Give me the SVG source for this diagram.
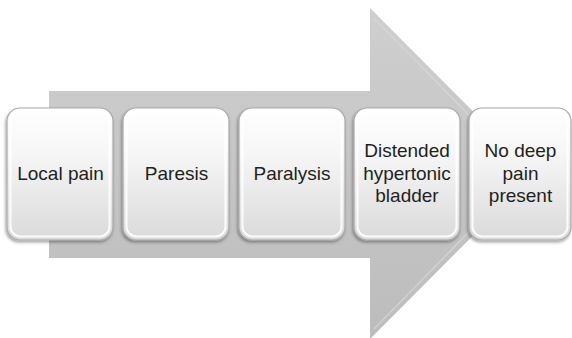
<svg xmlns="http://www.w3.org/2000/svg" width="572" height="338" viewBox="0 0 572 338">
  <defs>
    <linearGradient id="arrowGrad" x1="0" y1="0" x2="0" y2="1">
      <stop offset="0" stop-color="#cfcfcf"/>
      <stop offset="1" stop-color="#bcbcbc"/>
    </linearGradient>
    <linearGradient id="boxGrad" x1="0" y1="0" x2="0" y2="1">
      <stop offset="0" stop-color="#ffffff"/>
      <stop offset="0.35" stop-color="#f6f6f6"/>
      <stop offset="1" stop-color="#dadada"/>
    </linearGradient>
    <filter id="shadow" x="-10%" y="-10%" width="120%" height="120%">
      <feDropShadow dx="-1" dy="2" stdDeviation="1.5" flood-color="#000" flood-opacity="0.35"/>
    </filter>
  </defs>
  <style>
    .box { fill: url(#boxGrad); stroke: #a9a9a9; stroke-width: 1.2; filter: url(#shadow); }
    .hl { fill: none; stroke: #ffffff; stroke-width: 2; opacity: 0.9; }
    .lbl { font-family: "Liberation Sans", Arial, sans-serif; font-size: 19px; fill: #231f20; text-anchor: middle; }
  </style>
  <rect width="572" height="338" fill="#ffffff"/>
  <g id="connectors">
    <path d="M49,91 H370 V8 L535,173.5 L370,339 V258 H49 Z" fill="url(#arrowGrad)"/>
    <path d="M374,18 L526,173.5 L374,329" fill="none" stroke="#d9d9d9" stroke-width="1.5" opacity="0.7"/>
  </g>
  <g id="node1">
    <rect class="box" x="7" y="108" width="106" height="132" rx="13"/>
    <rect class="hl" x="10.5" y="111.5" width="99" height="125" rx="10"/>
    <text class="lbl" x="60.5" y="179.5">Local pain</text>
  </g>
  <g id="node2">
    <rect class="box" x="123" y="108" width="106" height="132" rx="13"/>
    <rect class="hl" x="126.5" y="111.5" width="99" height="125" rx="10"/>
    <text class="lbl" x="176.5" y="179.5">Paresis</text>
  </g>
  <g id="node3">
    <rect class="box" x="239" y="108" width="106" height="132" rx="13"/>
    <rect class="hl" x="242.5" y="111.5" width="99" height="125" rx="10"/>
    <text class="lbl" x="292" y="179.5">Paralysis</text>
  </g>
  <g id="node4">
    <rect class="box" x="354" y="108" width="106" height="132" rx="13"/>
    <rect class="hl" x="357.5" y="111.5" width="99" height="125" rx="10"/>
    <text class="lbl" x="407" y="157">Distended</text>
    <text class="lbl" x="407" y="179.5">hypertonic</text>
    <text class="lbl" x="407" y="202">bladder</text>
  </g>
  <g id="node5">
    <rect class="box" x="469" y="108" width="102" height="132" rx="13"/>
    <rect class="hl" x="472.5" y="111.5" width="95" height="125" rx="10"/>
    <text class="lbl" x="520.5" y="157">No deep</text>
    <text class="lbl" x="520.5" y="179.5">pain</text>
    <text class="lbl" x="520.5" y="202">present</text>
  </g>
</svg>
